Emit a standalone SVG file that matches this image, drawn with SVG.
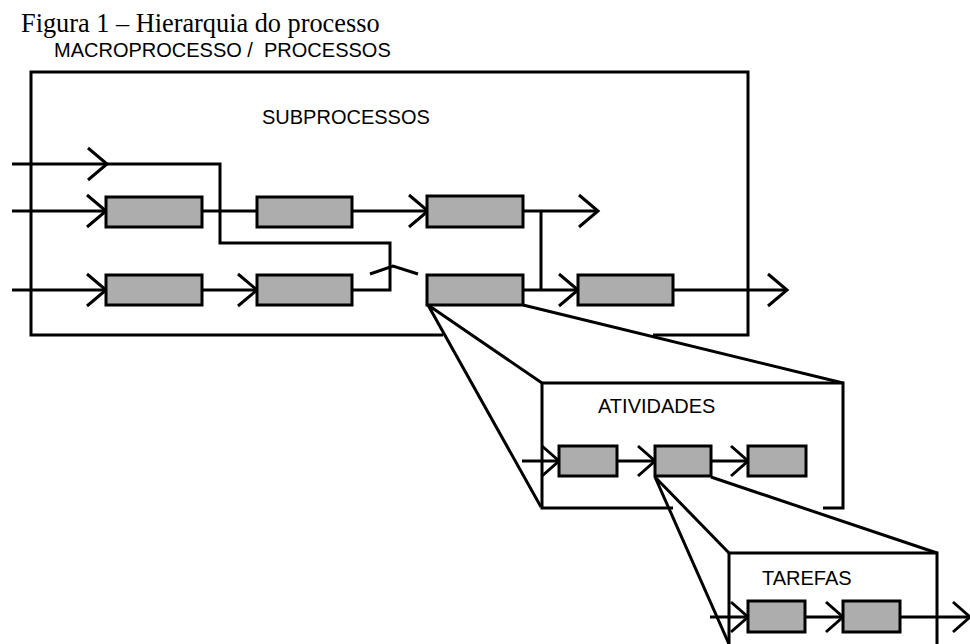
<svg xmlns="http://www.w3.org/2000/svg" width="970" height="644" viewBox="0 0 970 644">
<defs>
<style>
.ln{fill:none;stroke:#000;stroke-width:3;stroke-linejoin:miter;stroke-linecap:butt}
.bx{fill:#adadad;stroke:#000;stroke-width:3}
.ar{fill:none;stroke:#000;stroke-width:3;stroke-linejoin:miter}
.lbl{font-family:"Liberation Sans",Arial,sans-serif;font-size:20px;fill:#000}
.ttl{font-family:"Liberation Serif","Times New Roman",serif;font-size:26.3px;fill:#000}
</style>
<path id="chev" d="M-19,-16 L0,0 L-19,16"/>
<path id="chevs" d="M-17,-15 L0,0 L-17,15"/>
</defs>
<rect width="970" height="644" fill="#fff"/>
<text class="ttl" x="21" y="32">Figura 1 – Hierarquia do processo</text>

<g id="macroprocesso">
<text class="lbl" x="54" y="57" xml:space="preserve">MACROPROCESSO /  PROCESSOS</text>
<path class="ln" d="M443,335 L31,335 L31,72 L748,72 L748,335 L653,335"/>
<text class="lbl" x="262" y="124">SUBPROCESSOS</text>
</g>

<g id="atividades">
<path class="ln" d="M673,508 L542,508 L542,383 L843,383 L843,508 L823,508"/>
<text class="lbl" x="598" y="413">ATIVIDADES</text>
</g>

<g id="tarefas">
<path class="ln" d="M729,650 L729,553 L937,553 L937,650"/>
<text class="lbl" x="762" y="585">TAREFAS</text>
</g>

<g id="connectors">
<path class="ln" d="M12,164 L220,164 L220,243 L390,243 L390,290 L352,290"/>
<use href="#chev" class="ar" transform="translate(107,164)"/>
<path class="ln" d="M370,274 L393,266 L418,274"/>
<path class="ln" d="M12,211 L106,211 M202,211 L257,211 M352,211 L427,211 M523,211 L598,211 M541,211 L541,290"/>
<use href="#chev" class="ar" transform="translate(106,211)"/>
<use href="#chev" class="ar" transform="translate(428,211)"/>
<use href="#chev" class="ar" transform="translate(598,211)"/>
<path class="ln" d="M12,290 L106,290 M202,290 L257,290 M523,290 L578,290 M673,290 L787,290"/>
<use href="#chev" class="ar" transform="translate(106,290)"/>
<use href="#chev" class="ar" transform="translate(257,290)"/>
<use href="#chev" class="ar" transform="translate(578,290)"/>
<use href="#chev" class="ar" transform="translate(787,290)"/>
<path class="ln" d="M428,305 L542,383 M428,305 L541,507 M523,305 L843,383"/>
<path class="ln" d="M522,461 L559,461 M617,461 L655,461 M711,461 L748,461"/>
<use href="#chevs" class="ar" transform="translate(559,461)"/>
<use href="#chevs" class="ar" transform="translate(655,461)"/>
<use href="#chevs" class="ar" transform="translate(748,461)"/>
<path class="ln" d="M655,477 L729,553 M655,477 L729,644 M711,477 L937,553"/>
<path class="ln" d="M710,617 L748,617 M805,617 L843,617 M900,617 L970,617"/>
<use href="#chevs" class="ar" transform="translate(748,617)"/>
<use href="#chevs" class="ar" transform="translate(843,617)"/>
<use href="#chevs" class="ar" transform="translate(970,617)"/>
</g>

<g id="sub-r2-1"><rect class="bx" x="106" y="197" width="96" height="30"/></g>
<g id="sub-r2-2"><rect class="bx" x="257" y="197" width="95" height="30"/></g>
<g id="sub-r2-3"><rect class="bx" x="427" y="196" width="96" height="31"/></g>
<g id="sub-r3-1"><rect class="bx" x="106" y="275" width="96" height="30"/></g>
<g id="sub-r3-2"><rect class="bx" x="257" y="275" width="95" height="30"/></g>
<g id="sub-r3-3"><rect class="bx" x="427" y="275" width="96" height="30"/></g>
<g id="sub-r3-4"><rect class="bx" x="578" y="275" width="95" height="30"/></g>

<g id="ativ-1"><rect class="bx" x="559" y="446" width="58" height="30"/></g>
<g id="ativ-2"><rect class="bx" x="655" y="446" width="56" height="30"/></g>
<g id="ativ-3"><rect class="bx" x="748" y="446" width="58" height="30"/></g>

<g id="tar-1"><rect class="bx" x="748" y="601" width="57" height="31"/></g>
<g id="tar-2"><rect class="bx" x="843" y="601" width="57" height="31"/></g>
</svg>
